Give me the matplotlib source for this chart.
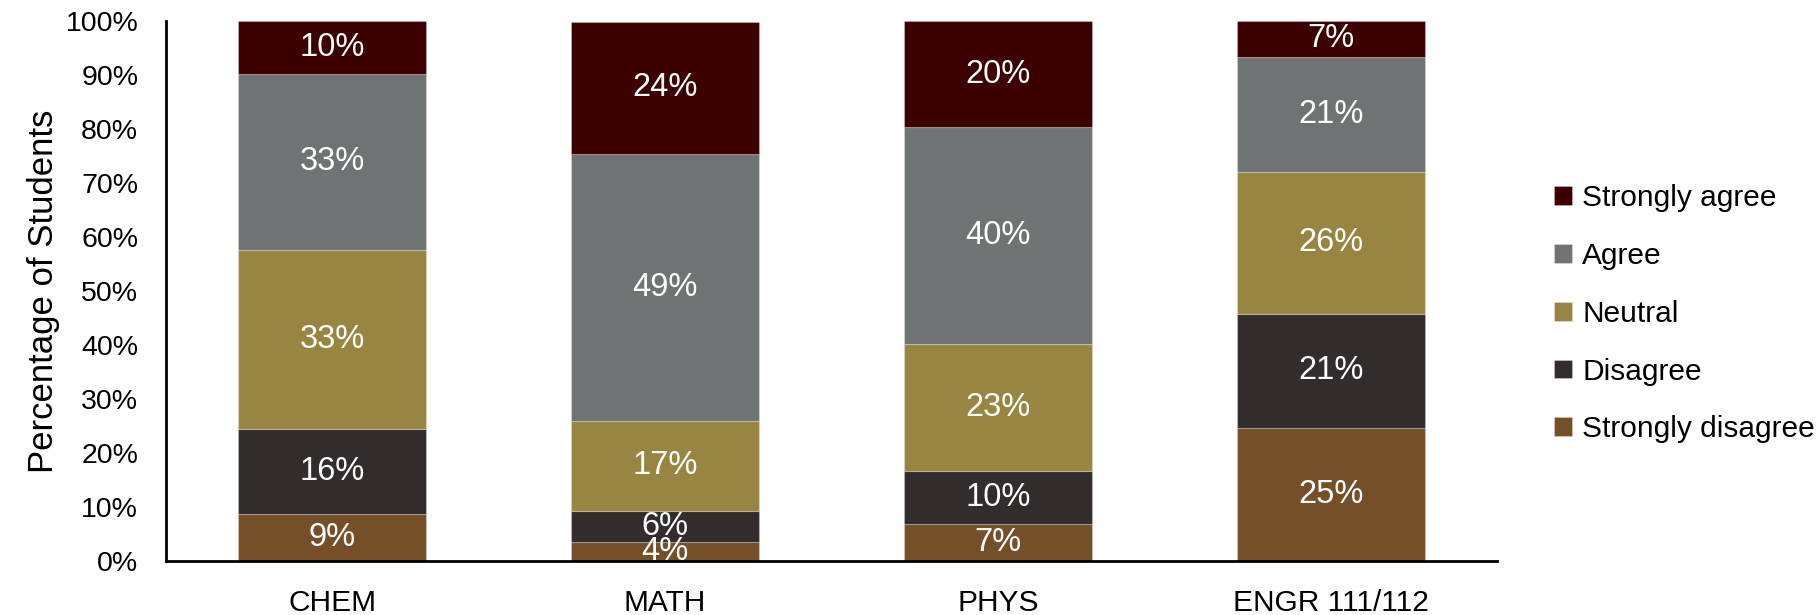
import matplotlib
matplotlib.use("Agg")
import matplotlib.pyplot as plt
import numpy as np

plt.rcParams['font.family'] = ['Liberation Sans', 'DejaVu Sans']

courses = ["CHEM", "MATH", "PHYS", "ENGR 111/112"]
responses = ["Strongly disagree", "Disagree", "Neutral", "Agree", "Strongly agree"]
strongly_disagree = [8.7, 3.6, 6.8, 24.6]
disagree = [15.7, 5.6, 9.9, 21.2]
neutral = [33.2, 16.8, 23.4, 26.2]
agree = [32.6, 49.4, 40.2, 21.4]
strongly_agree = [9.8, 24.4, 19.7, 6.6]
yticks = [0, 10, 20, 30, 40, 50, 60, 70, 80, 90, 100]

series = [strongly_disagree, disagree, neutral, agree, strongly_agree]
colors = ["#744F28", "#332C2C", "#998542", "#707373", "#3C0000"]

fig = plt.figure(figsize=(18.2, 6.15), dpi=100)
ax = fig.add_axes([0.0912, 0.0878, 0.7313, 0.878])

x = np.arange(len(courses))
bottom = np.zeros(len(courses))
handles = []
for name, vals, col in zip(responses, series, colors):
    vals = np.array(vals, dtype=float)
    bars = ax.bar(x, vals, width=0.565, bottom=bottom, color=col,
                  edgecolor=(1, 1, 1, 0.25), linewidth=0.8, label=name, zorder=2)
    handles.append(bars)
    for xi, b, v in zip(x, bottom, vals):
        ax.text(xi, b + v / 2, f"{int(v + 0.5)}%", ha="center", va="center",
                color="white", fontsize=23.5, zorder=3)
    bottom += vals

ax.set_xlim(-0.5, 3.5)
ax.set_ylim(0, 100)
ax.set_yticks(yticks)
ax.set_yticklabels([f"{t}%" for t in yticks])
ax.set_xticks(x)
ax.set_xticklabels(courses)
ax.tick_params(axis="y", length=0, pad=20, labelsize=20.5)
ax.tick_params(axis="x", length=0, pad=20, labelsize=21.5)
for s in ["top", "right"]:
    ax.spines[s].set_visible(False)
for s in ["left", "bottom"]:
    ax.spines[s].set_linewidth(2)
    ax.spines[s].set_color("black")
    ax.spines[s].set_zorder(4)
ax.set_ylabel("Percentage of Students", fontsize=25, labelpad=4)

leg = fig.legend(handles[::-1], responses[::-1], loc="center left",
                 bbox_to_anchor=(0.839, 0.49), frameon=False, fontsize=21.5,
                 handlelength=0.6, handleheight=0.6, handletextpad=0.35,
                 labelspacing=1.0)

fig.savefig("out.png", dpi=100)
